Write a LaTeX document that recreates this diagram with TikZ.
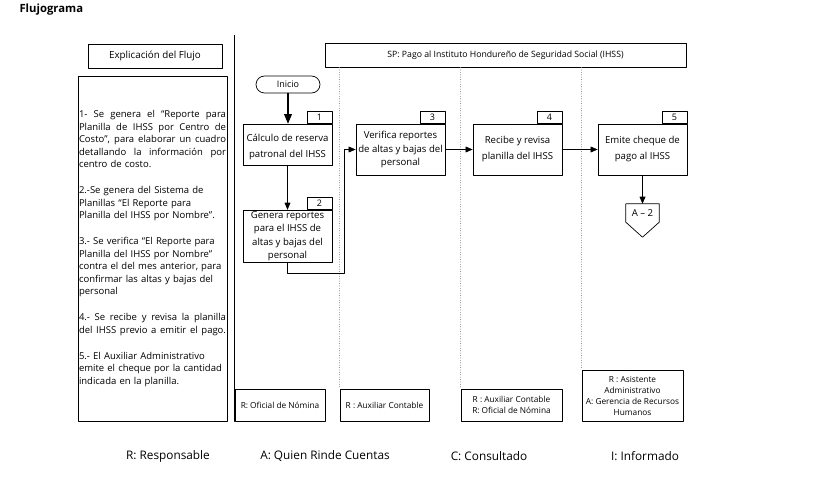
\documentclass[tikz,border=0pt]{standalone}
\usepackage{fontspec}
\setmainfont{Open Sans}
\usetikzlibrary{arrows}
\usetikzlibrary{positioning,calc}
\newcommand{\jline}[1]{{\spaceskip=0pt\xspaceskip=0pt\makebox[147pt][s]{#1}}}

\begin{document}
\begin{tikzpicture}[x=1pt,y=-1pt,line cap=round,line join=round,>=triangle 45,
  proc/.style={draw,line width=.7pt,minimum width=89pt,align=center,inner sep=1pt,font=\fontsize{9.6}{13.5}\selectfont},
  numtab/.style={draw,line width=.7pt,minimum width=25pt,minimum height=12pt,inner sep=0pt,anchor=south east,font=\fontsize{9}{10}\selectfont},
  lane/.style={line width=.4pt,dotted,color=gray},
  flow/.style={->,line width=.6pt},
  rbox/.style={draw,line width=.8pt,align=center,inner sep=1pt,font=\fontsize{8.3}{11}\selectfont},
  legend/.style={font=\fontsize{11.8}{13}\selectfont}]
\useasboundingbox (0,0) rectangle (819,489);
\node[anchor=west,font=\fontsize{11.3}{13}\selectfont\bfseries] (titulo) at (16,10) {Flujograma};
% explicacion
\node[draw,line width=.7pt,minimum width=134pt,minimum height=24pt,font=\fontsize{9.8}{11}\selectfont] (expl) at (155,56) {Explicación del Flujo};
\node[draw,line width=.8pt,minimum width=149pt,minimum height=345pt,text width=147pt,inner sep=1pt,align=left,font=\fontsize{9.5}{12.5}\selectfont] (txtbox) at (152.5,248.5)
 {\jline{1- Se genera el “Reporte para}\\
  \jline{Planilla de IHSS por Centro de}\\
  \jline{Costo”, para elaborar un cuadro}\\
  \jline{detallando la información por}\\
  centro de costo.\\[13.5pt]
  2.-Se genera del Sistema de\\
  Planillas “El Reporte para\\
  Planilla del IHSS por Nombre”.\\[13.5pt]
  3.- Se verifica “El Reporte para\\
  Planilla del IHSS por Nombre”\\
  contra el del mes anterior, para\\
  confirmar las altas y bajas del\\
  personal\\[13.5pt]
  \jline{4.- Se recibe y revisa la planilla}\\
  \jline{del IHSS previo a emitir el pago.}\\[13.5pt]
  5.- El Auxiliar Administrativo\\
  emite el cheque por la cantidad\\
  indicada en la planilla.};
% encabezado
\node[draw,line width=.7pt,minimum width=361pt,minimum height=24pt,font=\fontsize{8.7}{10}\selectfont] (sp) at (505.5,55) {SP: Pago al Instituto Hondureño de Seguridad Social (IHSS)};
% responsables
\node[rbox,minimum width=90pt,minimum height=32pt] (r1) at (280,405) {R: Oficial de Nómina};
\node[rbox,minimum width=89pt,minimum height=32pt] (r2) at (384.5,405) {R : Auxiliar Contable};
\node[rbox,minimum width=101pt,minimum height=32pt] (r3) at (511.5,405) {R : Auxiliar Contable\\R: Oficial de Nómina};
\node[rbox,minimum width=101pt,minimum height=51pt] (r4) at (632.5,395.5) {R : Asistente\\Administrativo\\A: Gerencia de Recursos\\Humanos};
\draw[line width=.8pt] (r1.south west) -- ++(0,-386);
\draw[lane] (r2.north west |- sp.south) -- (r2.north west);
\draw[lane] (r3.north west |- sp.south) -- (r3.north west);
\draw[lane] (r4.north west |- sp.south) -- (r4.north west);
% proceso
\node[draw,line width=.7pt,rounded corners=8.5pt,minimum width=64pt,minimum height=17pt,font=\fontsize{9}{10}\selectfont] (inicio) at (288,84.5) {Inicio};
\node[proc,minimum height=41pt] (b1) at (287.5,144.5) {\rule{0pt}{12pt}Cálculo de reserva\\[2.5pt]patronal del IHSS};
\node[proc,minimum height=51pt] (b2) at (287.5,236) {Genera reportes\\para el IHSS de\\altas y bajas del\\personal};
\node[proc,minimum height=51pt] (b3) at (400.5,149.5) {Verifica reportes\\de altas y bajas del\\personal};
\node[proc,minimum height=51pt] (b4) at (517.5,149.5) {Recibe y revisa\\[2.5pt]planilla del IHSS};
\node[proc,minimum height=51pt] (b5) at (642.5,149.5) {Emite cheque de\\[2.5pt]pago al IHSS};
\node[numtab] (n1) at (b1.north east) {1};
\node[numtab] (n2) at (b2.north east) {2};
\node[numtab] (n3) at (b3.north east) {3};
\node[numtab] (n4) at (b4.north east) {4};
\node[numtab] (n5) at (b5.north east) {5};
\node[minimum width=33pt,minimum height=18pt,inner sep=0pt,font=\fontsize{9.6}{10}\selectfont] (a2) at (642.5,213) {A – 2};
\draw[line width=.7pt] (a2.north west) -- (a2.north east) -- (a2.south east) -- ($(a2.south)+(0,15)$) -- (a2.south west) -- cycle;
\coordinate (k2) at (344,273);
\draw[->,line width=1.2pt] (inicio.south) -- (inicio.south |- b1.north);
\draw[flow] (b1) -- (b2);
\draw[flow] (b2.south) |- (k2) |- (b3.west);
\draw[flow] (b3) -- (b4);
\draw[flow] (b4) -- (b5);
\draw[flow] (b5) -- (a2);
% leyenda
\node[legend] (lr) at (168,456) {R: Responsable};
\node[legend] (la) at (325,456) {A: Quien Rinde Cuentas};
\node[legend] (lc) at (489,456) {C: Consultado};
\node[legend] (li) at (645,456) {I: Informado};
\end{tikzpicture}
\end{document}
